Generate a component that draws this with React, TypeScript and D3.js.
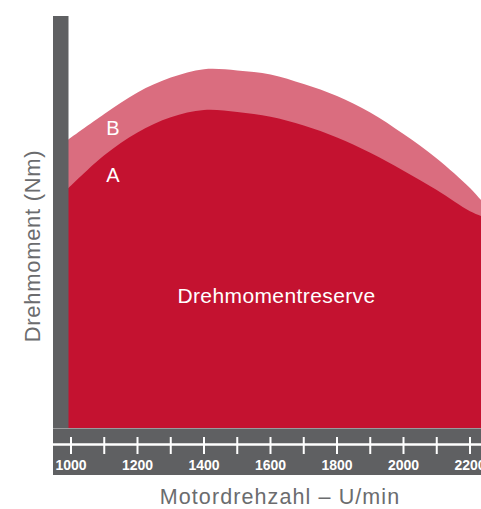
import React from "react";
import * as d3 from "d3";

// Motordrehzahl (U/min) sampled along the curves
const rpm = [990, 1100, 1200, 1300, 1400, 1500, 1600, 1700, 1800, 1900, 2000, 2100, 2200, 2240];
// curve B (upper, with reserve) – arbitrary torque units 0..100
const torqueB = [72.0, 78.5, 83.9, 87.6, 89.7, 89.4, 88.4, 86.0, 83.0, 78.9, 73.5, 67.4, 60.0, 56.3];
// curve A (lower)
const torqueA = [59.8, 68.2, 73.9, 77.7, 79.5, 79.0, 77.8, 75.6, 72.6, 68.8, 64.3, 59.5, 54.2, 52.8];

const tickValues = d3.range(1000, 2201, 100);
const labelValues = [1000, 1200, 1400, 1600, 1800, 2000, 2200];

const W = 481;
const H = 509;
const grey = "#5f6062";
const textGrey = "#6b6c6e";

export default function App() {
  const x = d3.scaleLinear().domain([1000, 2200]).range([71, 470]);
  const y = d3.scaleLinear().domain([0, 100]).range([428, 28]);

  const area = (vals: number[]) =>
    d3
      .area<number>()
      .x((_, i) => x(rpm[i]))
      .y0(y(0))
      .y1((d) => y(d))
      .curve(d3.curveCatmullRom.alpha(0.5))(vals) as string;

  const font = "'Liberation Sans', Arial, Helvetica, sans-serif";

  return (
    <svg
      width={W}
      height={H}
      style={{ position: "absolute", left: 0, top: 0 }}
      fontFamily={font}
    >
      <path d={area(torqueB)} fill="#da6d7f" />
      <path d={area(torqueA)} fill="#c41230" />

      {/* axis frame */}
      <rect x={53} y={16} width={15.5} height={420} fill={grey} />
      <rect x={53} y={428} width={W - 53} height={47} fill={grey} />
      <line x1={53} x2={W} y1={428.5} y2={428.5} stroke="#9a9b9d" strokeWidth={1} />
      <line x1={53} x2={W} y1={444.5} y2={444.5} stroke="#fff" strokeWidth={2.5} />
      {tickValues.map((t) => (
        <line key={t} x1={x(t)} x2={x(t)} y1={437} y2={454} stroke="#fff" strokeWidth={2} />
      ))}
      {labelValues.map((t) => (
        <text
          key={t}
          x={x(t)}
          y={470}
          textAnchor="middle"
          fill="#fff"
          fontSize={14}
          fontWeight="bold"
        >
          {t}
        </text>
      ))}

      {/* labels in plot */}
      <text x={113} y={135} textAnchor="middle" fill="#fff" fontSize={20}>B</text>
      <text x={113} y={181.5} textAnchor="middle" fill="#fff" fontSize={20}>A</text>
      <text x={276.5} y={303} textAnchor="middle" fill="#fff" fontSize={21} letterSpacing={0.4}>
        Drehmomentreserve
      </text>

      {/* axis titles */}
      <text
        transform="translate(40,246) rotate(-90)"
        textAnchor="middle"
        fill={textGrey}
        fontSize={22}
        letterSpacing={0.7}
      >
        Drehmoment (Nm)
      </text>
      <text x={280} y={504} textAnchor="middle" fill={textGrey} fontSize={21.5} letterSpacing={1.1}>
        Motordrehzahl – U/min
      </text>
    </svg>
  );
}
